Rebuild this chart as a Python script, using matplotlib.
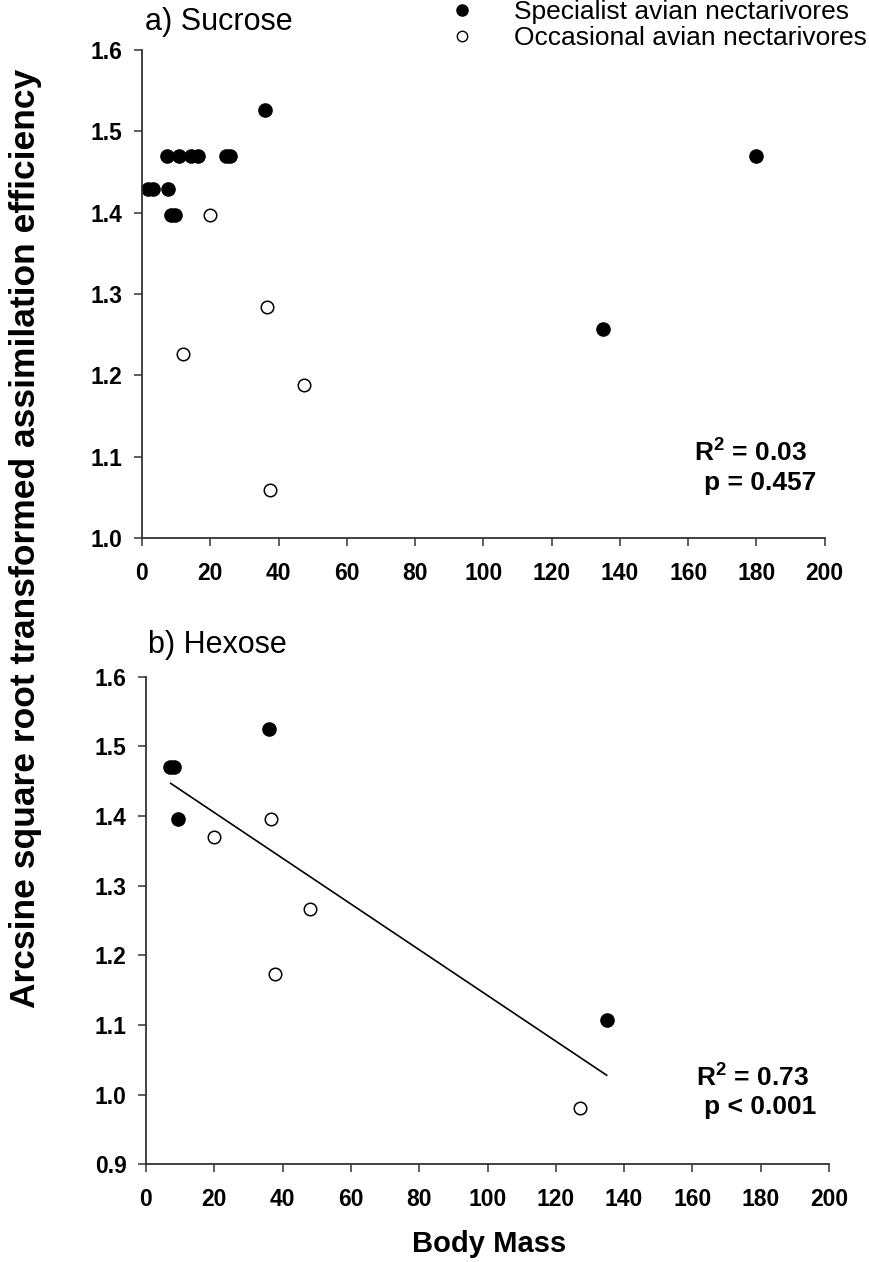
import matplotlib
matplotlib.use('Agg')
import matplotlib.pyplot as plt
from matplotlib.lines import Line2D

# -----------------------------------------------------------------------
# Data
# -----------------------------------------------------------------------
suc_spec_mass = [1.8, 3.3, 7.5, 7.2, 10.8, 14.3, 16.5, 24.7, 25.9, 8.4, 9.7, 36.0, 135.0, 180.0]
suc_spec_eff = [1.429, 1.429, 1.429, 1.470, 1.470, 1.470, 1.470, 1.470, 1.470, 1.397, 1.397, 1.526, 1.257, 1.470]

suc_occ_mass = [20.0, 12.0, 36.7, 47.6, 37.4]
suc_occ_eff = [1.397, 1.226, 1.284, 1.188, 1.059]

hex_spec_mass = [7.0, 8.2, 9.5, 35.9, 134.9]
hex_spec_eff = [1.471, 1.471, 1.396, 1.525, 1.107]

hex_occ_mass = [20.0, 36.7, 47.9, 37.8, 127.1]
hex_occ_eff = [1.370, 1.396, 1.267, 1.174, 0.981]

# regression line in panel b (end points)
fit_mass = [7.2, 134.9]
fit_eff = [1.447, 1.028]

x_ticks = [0, 20, 40, 60, 80, 100, 120, 140, 160, 180, 200]
suc_y_ticks = [1.0, 1.1, 1.2, 1.3, 1.4, 1.5, 1.6]
hex_y_ticks = [0.9, 1.0, 1.1, 1.2, 1.3, 1.4, 1.5, 1.6]

legend_labels = ["Specialist avian nectarivores", "Occasional avian nectarivores"]

# -----------------------------------------------------------------------
# Style
# -----------------------------------------------------------------------
plt.rcParams['font.family'] = ['Liberation Sans', 'DejaVu Sans']
plt.rcParams['mathtext.fontset'] = 'custom'
plt.rcParams['mathtext.rm'] = 'Liberation Sans'
plt.rcParams['mathtext.bf'] = 'Liberation Sans:bold'
AXIS_COLOR = '#333333'
MS = 9.5

fig = plt.figure(figsize=(8.69, 12.62), dpi=100)
ax1 = fig.add_axes([0.1634, 0.5737, 0.7856, 0.3867])
ax2 = fig.add_axes([0.1680, 0.0773, 0.7860, 0.3865])


def style_axis(ax, yticks, ylim):
    ax.set_xlim(0, 200)
    ax.set_ylim(*ylim)
    ax.set_xticks(x_ticks)
    ax.set_yticks(yticks)
    ax.set_xticklabels([str(t) for t in x_ticks])
    ax.set_yticklabels([f'{t:.1f}' for t in yticks])
    for side in ('top', 'right'):
        ax.spines[side].set_visible(False)
    for side in ('left', 'bottom'):
        ax.spines[side].set_color(AXIS_COLOR)
        ax.spines[side].set_linewidth(1.3)
    ax.tick_params(direction='out', length=6, width=1.1, color=AXIS_COLOR,
                   labelsize=16.5, pad=8)
    ax.tick_params(axis='x', pad=11)
    for lab in ax.get_xticklabels() + ax.get_yticklabels():
        lab.set_fontweight('bold')


def draw_points(ax, sm, se, om, oe):
    ax.plot(sm, se, linestyle='none', marker='o', ms=MS, mfc='black', mec='black', clip_on=False)
    ax.plot(om, oe, linestyle='none', marker='o', ms=MS - 0.5, mfc='white', mec='black',
            mew=1.1, clip_on=False)


# panel a
draw_points(ax1, suc_spec_mass, suc_spec_eff, suc_occ_mass, suc_occ_eff)
style_axis(ax1, suc_y_ticks, (1.0, 1.6))
ax1.text(0.974, 0.176, r'R$^{\mathbf{2}}$ = 0.03', transform=ax1.transAxes, ha='right',
         va='center', fontsize=19, fontweight='bold')
ax1.text(0.987, 0.113, 'p = 0.457', transform=ax1.transAxes, ha='right', va='center',
         fontsize=19, fontweight='bold')
fig.text(145 / 869, 1 - 22 / 1262, 'a) Sucrose', ha='left', va='center', fontsize=22)

# panel b
draw_points(ax2, hex_spec_mass, hex_spec_eff, hex_occ_mass, hex_occ_eff)
ax2.plot(fit_mass, fit_eff, color='black', linewidth=1.2)
style_axis(ax2, hex_y_ticks, (0.9, 1.6))
ax2.text(0.971, 0.181, r'R$^{\mathbf{2}}$ = 0.73', transform=ax2.transAxes, ha='right',
         va='center', fontsize=19, fontweight='bold')
ax2.text(0.982, 0.118, 'p < 0.001', transform=ax2.transAxes, ha='right', va='center',
         fontsize=19, fontweight='bold')
fig.text(148 / 869, 1 - 645 / 1262, 'b) Hexose', ha='left', va='center', fontsize=22)

# shared axis labels
fig.text(489 / 869, 1 - 1244 / 1262, 'Body Mass', ha='center', va='center',
         fontsize=21, fontweight='bold')
fig.text(26 / 869, 1 - 538 / 1262, 'Arcsine square root transformed assimilation efficiency',
         ha='center', va='center', rotation=90, fontsize=25.5, fontweight='bold')

# legend
handles = [
    Line2D([], [], linestyle='none', marker='o', ms=8, mfc='black', mec='black'),
    Line2D([], [], linestyle='none', marker='o', ms=7.5, mfc='white', mec='black', mew=1.0),
]
fig.legend(handles, legend_labels, loc='upper left', bbox_to_anchor=(432 / 869, 1.008),
           frameon=False, fontsize=19, handletextpad=1.2, labelspacing=0.05,
           handlelength=1.5, borderaxespad=0)

fig.savefig('out.png', dpi=100)
